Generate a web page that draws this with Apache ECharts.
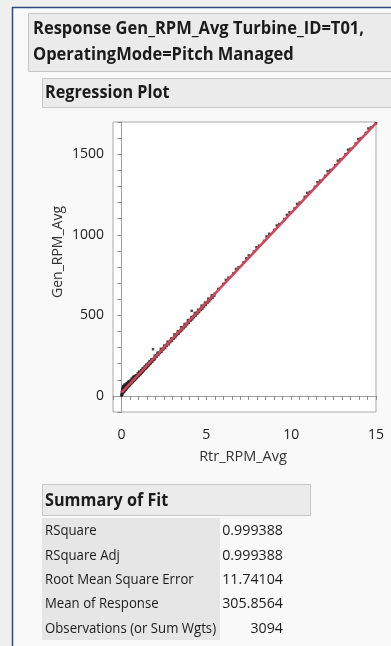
<!DOCTYPE html>
<html><head><meta charset="utf-8">
<script src="https://cdn.jsdelivr.net/npm/echarts@6/dist/echarts.min.js"></script>
<style>html,body{margin:0;padding:0;background:#f9f9f9;}#c{width:391px;height:646px;}</style>
</head><body><div id="c"></div>
<script>
const rtrRpm = [0.00,0.01,0.02,0.02,0.03,0.04,0.05,0.05,0.06,0.07,0.08,0.09,0.10,0.10,0.12,0.13,0.15,0.15,0.17,0.18,0.20,0.20,0.22,0.24,0.25,0.27,0.28,0.30,0.30,0.32,0.35,0.36,0.38,0.40,0.40,0.42,0.45,0.46,0.48,0.50,
0.55,0.58,0.60,0.62,0.65,0.68,0.70,0.72,0.75,0.78,0.80,0.83,0.85,0.88,0.90,0.93,0.95,0.98,1.00,1.03,1.05,1.08,1.10,1.13,1.15,1.18,1.20,1.23,1.25,1.28,1.30,1.33,1.35,1.38,1.40,1.43,1.45,1.48,1.50,1.53,1.55,1.58,1.60,1.63,1.65,1.68,1.70,1.73,1.75,1.78,1.80,1.83,1.86,1.88,1.90,1.93,1.95,1.98,2.00,
2.05,2.10,2.15,2.20,2.25,2.30,2.35,2.40,2.45,2.50,2.55,2.60,2.65,2.70,2.75,2.80,2.85,2.90,2.95,3.00,3.05,3.10,3.15,3.20,3.25,3.30,3.35,3.40,3.45,3.50,3.55,3.60,3.65,3.70,3.75,3.80,3.85,3.90,3.95,4.00,4.05,4.10,4.14,4.20,4.25,4.30,4.35,4.40,4.45,4.50,4.55,4.60,4.65,4.70,4.75,4.80,4.85,4.90,4.95,5.00,5.10,5.20,5.30,5.40,5.50,
5.7,6.0,6.3,6.6,6.9,7.2,7.5,7.8,8.1,8.4,8.7,9.0,9.3,9.6,9.9,10.2,10.5,10.8,11.1,11.4,11.7,12.0,12.3,12.6,12.9,13.2,13.5,13.8,14.1,14.4,14.7,15.0,
0.08,0.14,0.19,0.23,0.29,0.33,0.37,0.41,0.44,0.47,0.52,0.57,0.63,0.67,0.73,0.77,0.82,0.87,0.92,0.97,1.02,1.07,1.12,1.17,1.22,1.27,1.32,1.37,1.42,1.47,1.52,1.57,1.62,1.67,1.72,1.77,1.82,1.87,1.92,1.97,
0.12,0.22,0.34,0.44,0.56,0.66,0.76,0.86,0.96,1.06,1.16,1.26,1.36,1.46,1.56,1.66,1.76,1.96,
2.07,2.17,2.27,2.37,2.47,2.57,2.67,2.77,2.87,2.97,3.07,3.17,3.27,3.37,3.47,3.57,3.67,3.77,3.87,3.97,4.07,4.17,4.27,4.37,4.47,4.57,4.67,4.77,4.87,4.97,5.07,5.17,5.27,5.37,5.47,
2.12,2.32,2.52,2.72,2.92,3.12,3.32,3.52,3.72,3.92,4.12,4.32,4.52,4.72,4.92,5.12,5.32,
6.15,6.75,7.35,7.95,8.55,9.15,9.75,10.35,10.95,11.55,12.15,12.75,13.35,13.95,14.55];
const genRpm = [2,10,5,25,14,32,8,45,20,38,16,52,28,60,24,48,33,66,40,30,44,72,50,38,58,64,46,55,78,62,60,82,66,70,88,75,72,92,80,78,
95,84,108,88,92,118,96,102,122,104,108,112,128,116,118,124,130,126,132,148,134,138,142,146,140,152,155,150,166,160,164,170,168,172,175,184,180,182,186,190,194,192,196,200,205,204,208,212,216,214,220,228,290,226,230,234,236,238,244,
252,254,262,266,270,276,286,287,294,300,304,310,318,321,326,332,336,343,346,356,358,366,372,377,380,388,392,399,404,410,414,421,428,432,438,444,449,456,460,466,470,478,528,488,494,500,504,511,516,522,526,533,540,544,548,556,560,566,572,578,590,600,612,622,634,
664,695,734,762,798,830,872,896,932,962,1006,1030,1066,1098,1140,1164,1200,1236,1266,1298,1336,1366,1402,1432,1468,1500,1534,1566,1600,1632,1666,1692,
22,27,36,38,46,49,55,58,63,64,71,75,84,86,93,99,102,110,113,121,124,132,135,143,147,154,158,166,169,176,180,188,191,199,202,210,214,221,225,232,
50,58,70,82,94,104,116,126,140,150,160,172,182,194,204,216,226,250,
243,254,266,275,288,297,310,320,333,342,355,364,377,386,399,408,421,431,444,453,466,475,488,498,510,520,533,542,555,565,577,587,600,609,622,
268,292,312,337,356,382,401,426,446,471,490,515,535,560,579,604,624,
720,788,854,922,990,1058,1124,1192,1260,1326,1394,1460,1528,1594,1660];
// Fitted regression line end points
const fitX = [0, 15];
const fitY = [20, 1692.5];
// Axis label values
const xTickLabels = [0, 5, 10, 15];
const yTickLabels = [0, 500, 1000, 1500];
// Summary of Fit
const fitLabels = ['RSquare','RSquare Adj','Root Mean Square Error','Mean of Response','Observations (or Sum Wgts)'];
const fitValues = ['0.999388','0.999388','11.74104','305.8564','3094'];

const FONT = '"Open Sans", "Noto Sans", sans-serif';
const TXT = '#1b1b1b';
const HSX = 0.9;

const points = rtrRpm.map((x, i) => [x, genRpm[i]]);
const fitLine = fitX.map((x, i) => [x, fitY[i]]);

const graphic = [
  {type:'rect', shape:{x:0,y:0,width:12,height:646}, style:{fill:'#efefef'}, silent:true},
  {type:'rect', shape:{x:12,y:0,width:379,height:7}, style:{fill:'#efefef'}, silent:true},
  {type:'line', shape:{x1:12,y1:7.5,x2:391,y2:7.5}, style:{stroke:'#2e4d7c', lineWidth:1.5}},
  {type:'line', shape:{x1:12.5,y1:7,x2:12.5,y2:646}, style:{stroke:'#2e4d7c', lineWidth:1.5}},
  {type:'rect', shape:{x:28.5,y:13.5,width:370,height:58}, style:{fill:'#ebebeb', stroke:'#c6c6c6', lineWidth:1}},
  {type:'text', x:33, y:29, scaleX:0.917, style:{text:'Response Gen_RPM_Avg Turbine_ID=T01,', font:'bold 18px '+FONT, fill:TXT, verticalAlign:'middle'}},
  {type:'text', x:33, y:55, scaleX:0.917, style:{text:'OperatingMode=Pitch Managed', font:'bold 18px '+FONT, fill:TXT, verticalAlign:'middle'}},
  {type:'rect', shape:{x:42.5,y:78.5,width:360,height:29}, style:{fill:'#ebebeb', stroke:'#c6c6c6', lineWidth:1}},
  {type:'text', x:45, y:93, scaleX:HSX, style:{text:'Regression Plot', font:'bold 18px '+FONT, fill:TXT, verticalAlign:'middle'}},
  {type:'text', x:58, y:252, rotation:Math.PI/2, style:{text:'Gen_RPM_Avg', font:'14px '+FONT, fill:'#333', align:'center', verticalAlign:'middle'}},
  {type:'text', x:243, y:457, style:{text:'Rtr_RPM_Avg', font:'14.5px '+FONT, fill:'#333', align:'center', verticalAlign:'middle'}},
  {type:'rect', shape:{x:42.5,y:484.5,width:268,height:31}, style:{fill:'#ebebeb', stroke:'#c6c6c6', lineWidth:1}},
  {type:'text', x:45, y:501, scaleX:HSX, style:{text:'Summary of Fit', font:'bold 18px '+FONT, fill:TXT, verticalAlign:'middle'}},
  {type:'rect', shape:{x:42,y:518,width:178,height:122}, style:{fill:'#e6e6e6'}}
];
const rowY = [531, 555.5, 579.5, 604, 628.5];
fitLabels.forEach((t, i) => {
  graphic.push({type:'text', x:45, y:rowY[i], scaleX:0.88, style:{text:t, font:'15px '+FONT, fill:TXT, verticalAlign:'middle'}});
  graphic.push({type:'text', x:283, y:rowY[i], scaleX:0.95, style:{text:fitValues[i], font:'15px '+FONT, fill:TXT, align:'right', verticalAlign:'middle'}});
});

const chart = echarts.init(document.getElementById('c'), null, {renderer:'canvas'});
chart.setOption({
  backgroundColor:'#f9f9f9',
  animation:false,
  grid:{left:113, right:15, top:122, bottom:234, show:true, backgroundColor:'#ffffff', borderColor:'#a9a9a9', borderWidth:1},
  xAxis:{type:'value', min:-0.5, max:15, interval:0.5,
    axisLine:{lineStyle:{color:'#a0a0a0'}},
    axisTick:{length:4, lineStyle:{color:'#8c8c8c'}},
    splitLine:{show:false},
    axisLabel:{margin:16, fontSize:14, fontFamily:FONT, color:'#222',
      formatter:v => xTickLabels.some(t => Math.abs(t - v) < 1e-9) ? String(Math.round(v)) : ''}},
  yAxis:{type:'value', min:-100, max:1700, interval:100,
    axisLine:{show:true, lineStyle:{color:'#a0a0a0'}},
    axisTick:{show:true, length:4, lineStyle:{color:'#8c8c8c'}},
    splitLine:{show:false},
    axisLabel:{margin:9, fontSize:14, fontFamily:FONT, color:'#222',
      formatter:v => yTickLabels.some(t => Math.abs(t - v) < 1e-9) ? String(Math.round(v)) : ''}},
  series:[
    {type:'scatter', data:points, symbol:'rect', symbolSize:2.5, itemStyle:{color:'#1e1e1e'}, z:2},
    {type:'line', data:fitLine, showSymbol:false, lineStyle:{color:'#d24456', width:2.5}, z:3}
  ],
  graphic:graphic
});
</script></body></html>
